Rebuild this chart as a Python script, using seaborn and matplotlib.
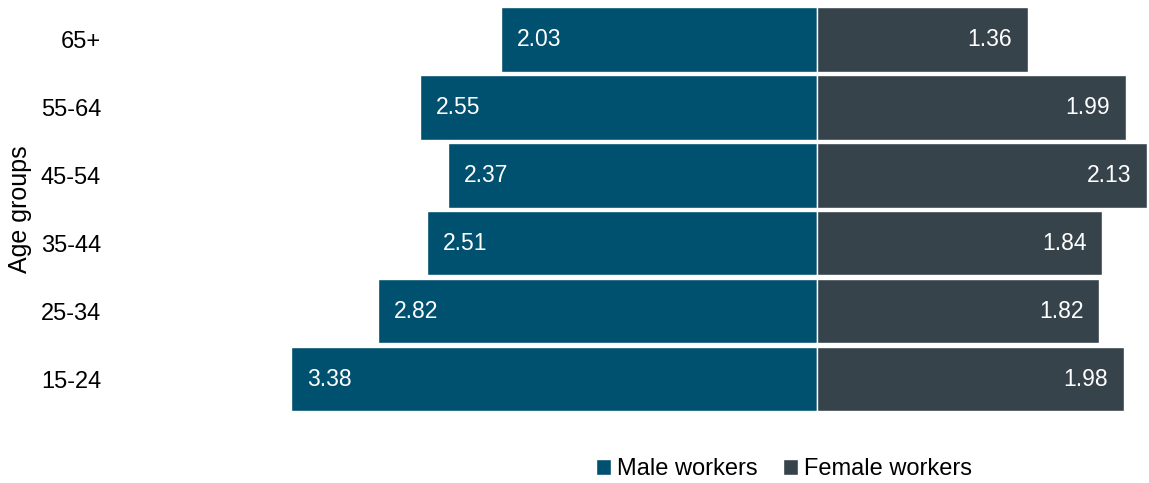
import pandas as pd
import matplotlib.pyplot as plt
import seaborn as sns

# 数据
age_groups = ["65+", "55-64", "45-54", "35-44", "25-34", "15-24"]
male_values = [2.03, 2.55, 2.37, 2.51, 2.82, 3.38]
female_values = [1.36, 1.99, 2.13, 1.84, 1.82, 1.98]
series_names = ["Male workers", "Female workers"]
colors = ["#00506f", "#37434b"]

df = pd.DataFrame({
    "age": age_groups * 2,
    "value": [-v for v in male_values] + female_values,
    "label": male_values + female_values,
    "sex": [series_names[0]] * 6 + [series_names[1]] * 6,
})

sns.set_theme(style="white")
plt.rcParams['font.family'] = ['Liberation Sans', 'DejaVu Sans']
plt.rcParams['text.color'] = 'black'
plt.rcParams['axes.labelcolor'] = 'black'
plt.rcParams['ytick.color'] = 'black'

fig = plt.figure(figsize=(11.49, 4.83), dpi=100)
ax = fig.add_axes([115 / 1149, 1 - 413 / 483, 1 - 115 / 1149, 407.5 / 483])

sns.barplot(
    data=df, x="value", y="age", hue="sex", order=age_groups,
    hue_order=series_names, palette=colors, dodge=False, width=0.95,
    orient="h", edgecolor="white", linewidth=1, saturation=1, ax=ax,
)

# 数值标签
for cont, name in zip(ax.containers, series_names):
    labels = df.loc[df["sex"] == name, "label"].tolist()
    for bar, val in zip(cont, labels):
        y = bar.get_y() + bar.get_height() / 2
        x0 = min(bar.get_x(), bar.get_x() + bar.get_width())
        x1 = max(bar.get_x(), bar.get_x() + bar.get_width())
        if name == series_names[0]:
            ax.annotate(f"{val:.2f}", (x0, y), xytext=(11.5, 0),
                        textcoords="offset points", ha="left", va="center",
                        color="white", fontsize=16.5)
        else:
            ax.annotate(f"{val:.2f}", (x1, y), xytext=(-11.5, 0),
                        textcoords="offset points", ha="right",
                        va="center", color="white", fontsize=16.5)

ax.set_xlim(-4.515, 2.14)
ax.set_ylim(5.5, -0.5)
ax.set_xticks([])
ax.set_xlabel("")
ax.set_ylabel("Age groups", fontsize=18, labelpad=6)
ax.tick_params(axis="y", labelsize=17, length=0, pad=10)
sns.despine(ax=ax, left=True, bottom=True)

sns.move_legend(
    ax, "center", bbox_to_anchor=(784 / 1149, 1 - 469 / 483),
    bbox_transform=fig.transFigure, ncol=2, title=None, frameon=False,
    fontsize=17, handlelength=0.65, handleheight=0.65, handletextpad=0.25,
    columnspacing=1.05, labelcolor="black",
)

fig.savefig("out.png", dpi=100)
